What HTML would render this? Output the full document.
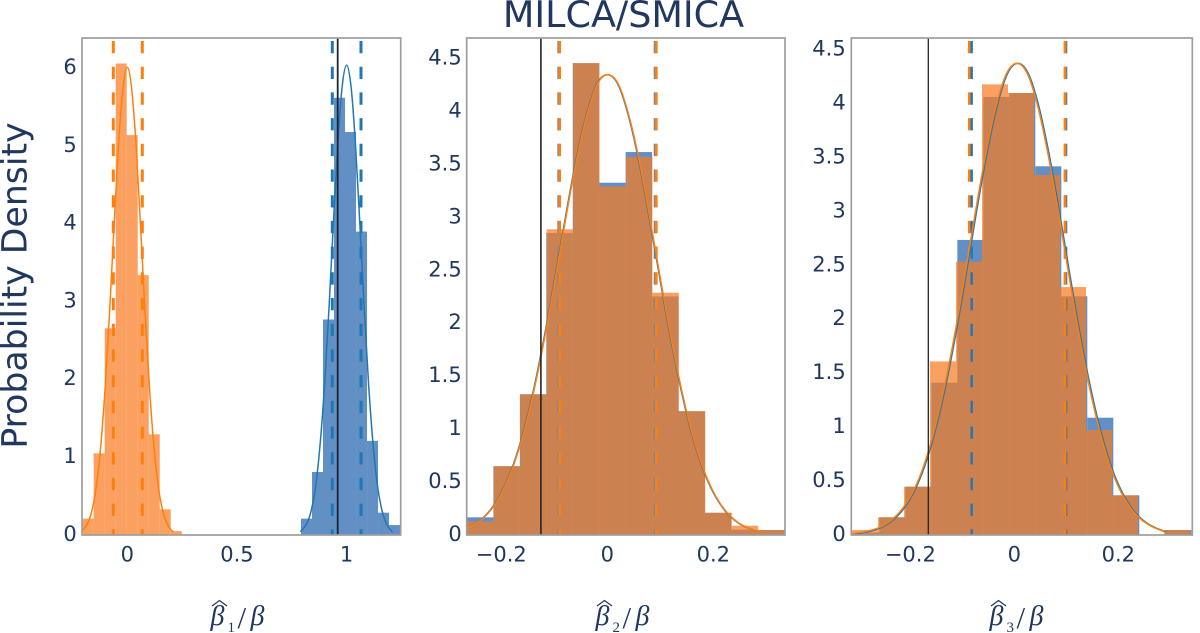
<!DOCTYPE html>
<html lang="en">
<head>
<meta charset="utf-8">
<title>MILCA/SMICA</title>
<style>
html,body{margin:0;padding:0;background:#fff;}
svg{display:block;}
text{font-family:"DejaVu Sans","Liberation Sans",sans-serif;fill:#20375f;}
.math{font-family:"Liberation Serif",serif;font-style:italic;}
.tick{font-size:21px;}
</style>
</head>
<body>
<svg id="chart" xmlns="http://www.w3.org/2000/svg" width="1200" height="633" viewBox="0 0 1200 633">
  <rect x="0" y="0" width="1200" height="633" fill="#ffffff"/>
  <text x="623.5" y="27" text-anchor="middle" font-size="36.5">MILCA/SMICA</text>
  <text transform="translate(26.5 285.5) rotate(-90)" text-anchor="middle" font-size="34.7">Probability Density</text>

  <g>
    <path d="M212 606 L219.5 600.5 L227 606" fill="none" stroke="#20375f" stroke-width="1.2"/>
    <text class="math" x="210.5" y="625" font-size="28">β</text>
    <text x="227.5" y="632" font-size="15" style="font-family:'Liberation Serif',serif">1</text>
    <text class="math" x="237.5" y="628" font-size="31" style="font-style:normal">/</text>
    <text class="math" x="250.5" y="625" font-size="28">β</text>
  </g>
  <g>
    <path d="M597 606 L604.5 600.5 L612 606" fill="none" stroke="#20375f" stroke-width="1.2"/>
    <text class="math" x="595.5" y="625" font-size="28">β</text>
    <text x="612.5" y="632" font-size="15" style="font-family:'Liberation Serif',serif">2</text>
    <text class="math" x="622.5" y="628" font-size="31" style="font-style:normal">/</text>
    <text class="math" x="635.5" y="625" font-size="28">β</text>
  </g>
  <g>
    <path d="M991 606 L998.5 600.5 L1006 606" fill="none" stroke="#20375f" stroke-width="1.2"/>
    <text class="math" x="989.5" y="625" font-size="28">β</text>
    <text x="1006.5" y="632" font-size="15" style="font-family:'Liberation Serif',serif">3</text>
    <text class="math" x="1016.5" y="628" font-size="31" style="font-style:normal">/</text>
    <text class="math" x="1029.5" y="625" font-size="28">β</text>
  </g>
</svg>

<script>
// ---------- Panel 1 data ----------
const p1XTicks = [0, 0.5, 1];
const p1XTickLabels = ["0", "0.5", "1"];
const p1YTicks = [0, 1, 2, 3, 4, 5, 6];
const p1YTickLabels = ["0", "1", "2", "3", "4", "5", "6"];
const p1OrangeBinEdges = [-0.2035, -0.1533, -0.1031, -0.0529, -0.0027, 0.0475, 0.0977, 0.1479, 0.1981, 0.2483];
const p1OrangeHeights = [0.21, 1.05, 2.657, 6.06, 5.14, 3.34, 1.294, 0.33, 0.05];
const p1BlueBinEdges = [0.792, 0.8422, 0.8924, 0.9426, 0.9928, 1.043, 1.0932, 1.1434, 1.1936, 1.2438];
const p1BlueHeights = [0.21, 0.81, 2.77, 5.62, 5.18, 3.90, 1.21, 0.287, 0.128];
const p1OrangeCurveX = [-0.207, -0.18, -0.16, -0.14, -0.12, -0.10, -0.08, -0.06, -0.04, -0.02, 0, 0.02, 0.04, 0.06, 0.08, 0.10, 0.12, 0.14, 0.16, 0.18, 0.20, 0.21];
const p1OrangeCurveY = [0.05, 0.154, 0.33, 0.65, 1.18, 1.94, 2.91, 3.99, 5.01, 5.73, 6.01, 5.73, 5.01, 3.99, 2.91, 1.94, 1.18, 0.65, 0.33, 0.154, 0.065, 0.04];
const p1BlueCurveX = [0.79, 0.82, 0.84, 0.86, 0.88, 0.90, 0.92, 0.94, 0.96, 0.98, 1.0, 1.02, 1.04, 1.06, 1.08, 1.10, 1.12, 1.14, 1.16, 1.18, 1.20, 1.21];
const p1BlueCurveY = [0.04, 0.155, 0.33, 0.65, 1.19, 1.95, 2.93, 4.02, 5.04, 5.77, 6.04, 5.77, 5.04, 4.02, 2.93, 1.95, 1.19, 0.65, 0.33, 0.155, 0.065, 0.04];
const p1OrangeBounds = [-0.0638, 0.0684];
const p1BlueBounds = [0.9348, 1.0657];
const p1ReferenceValue = 0.9594;

// ---------- Panel 2 data ----------
const p2XTicks = [-0.2, 0, 0.2];
const p2XTickLabels = ["\u22120.2", "0", "0.2"];
const p2YTicks = [0, 0.5, 1, 1.5, 2, 2.5, 3, 3.5, 4, 4.5];
const p2YTickLabels = ["0", "0.5", "1", "1.5", "2", "2.5", "3", "3.5", "4", "4.5"];
const p2OrangeBinEdges = [-0.2642, -0.2143, -0.1644, -0.1145, -0.0646, -0.0147, 0.0352, 0.0851, 0.135, 0.1849, 0.2348, 0.2847, 0.3346];
const p2OrangeHeights = [0.129, 0.65, 1.33, 2.89, 4.46, 3.295, 3.575, 2.29, 1.17, 0.21, 0.088, 0.047];
const p2BlueBinEdges = [-0.2648, -0.2149, -0.165, -0.1151, -0.0652, -0.0153, 0.0346, 0.0845, 0.1344, 0.1843, 0.2342, 0.2841, 0.334];
const p2BlueHeights = [0.167, 0.65, 1.33, 2.855, 4.46, 3.33, 3.62, 2.255, 1.17, 0.21, 0.05, 0.047];
const p2BlueCurveX = [-0.265, -0.24, -0.22, -0.20, -0.18, -0.16, -0.14, -0.12, -0.10, -0.08, -0.06, -0.04, -0.02, 0, 0.02, 0.04, 0.06, 0.08, 0.10, 0.12, 0.14, 0.16, 0.18, 0.20, 0.22, 0.24, 0.26, 0.28, 0.294];
const p2BlueCurveY = [0.07, 0.14, 0.242, 0.40, 0.63, 0.945, 1.353, 1.845, 2.40, 2.975, 3.52, 3.96, 4.26, 4.35, 4.26, 3.96, 3.52, 2.975, 2.40, 1.845, 1.353, 0.945, 0.63, 0.40, 0.242, 0.14, 0.077, 0.04, 0.024];
const p2OrangeCurveX = [-0.264, -0.239, -0.219, -0.199, -0.179, -0.159, -0.139, -0.119, -0.099, -0.079, -0.059, -0.039, -0.019, 0.001, 0.021, 0.041, 0.061, 0.081, 0.101, 0.121, 0.141, 0.161, 0.181, 0.201, 0.221, 0.241, 0.261, 0.281, 0.295];
const p2OrangeCurveY = [0.07, 0.14, 0.242, 0.40, 0.63, 0.945, 1.353, 1.845, 2.40, 2.975, 3.52, 3.96, 4.26, 4.35, 4.26, 3.96, 3.52, 2.975, 2.40, 1.845, 1.353, 0.945, 0.63, 0.40, 0.242, 0.14, 0.077, 0.04, 0.024];
const p2OrangeBounds = [-0.0898, 0.0925];
const p2BlueBounds = [-0.0915, 0.0904];
const p2ReferenceValue = -0.1253;

// ---------- Panel 3 data ----------
const p3XTicks = [-0.2, 0, 0.2];
const p3XTickLabels = ["\u22120.2", "0", "0.2"];
const p3YTicks = [0, 0.5, 1, 1.5, 2, 2.5, 3, 3.5, 4, 4.5];
const p3YTickLabels = ["0", "0.5", "1", "1.5", "2", "2.5", "3", "3.5", "4", "4.5"];
const p3BlueBinEdges = [-0.3096, -0.2596, -0.2096, -0.1596, -0.1096, -0.0596, -0.0096, 0.0404, 0.0904, 0.1404, 0.1904, 0.2404, 0.2904, 0.3404, 0.3904];
const p3BlueHeights = [0.023, 0.164, 0.448, 1.413, 2.737, 4.063, 4.10, 3.42, 2.214, 1.088, 0.368, 0, 0.046, 0.046];
const p3OrangeBinEdges = [-0.3121, -0.2621, -0.2121, -0.1621, -0.1121, -0.0621, -0.0121, 0.0379, 0.0879, 0.1379, 0.1879, 0.2379, 0.2879, 0.3379];
const p3OrangeHeights = [0.046, 0.164, 0.448, 1.61, 2.535, 4.18, 4.10, 3.34, 2.30, 0.974, 0.368, 0, 0.046];
const p3BlueCurveX = [-0.308, -0.293, -0.273, -0.253, -0.233, -0.213, -0.193, -0.173, -0.153, -0.133, -0.113, -0.093, -0.073, -0.053, -0.033, -0.013, 0.007, 0.027, 0.047, 0.067, 0.087, 0.107, 0.127, 0.147, 0.167, 0.187, 0.207, 0.227, 0.247, 0.267, 0.291];
const p3BlueCurveY = [0.006, 0.02, 0.04, 0.077, 0.14, 0.242, 0.40, 0.63, 0.95, 1.36, 1.85, 2.41, 2.99, 3.53, 3.98, 4.28, 4.375, 4.28, 3.98, 3.53, 2.99, 2.41, 1.85, 1.36, 0.95, 0.63, 0.40, 0.242, 0.14, 0.077, 0.03];
const p3OrangeCurveX = [-0.312, -0.295, -0.275, -0.255, -0.235, -0.215, -0.195, -0.175, -0.155, -0.135, -0.115, -0.095, -0.075, -0.055, -0.035, -0.015, 0.005, 0.025, 0.045, 0.065, 0.085, 0.105, 0.125, 0.145, 0.165, 0.185, 0.205, 0.225, 0.245, 0.265, 0.289];
const p3OrangeCurveY = [0.012, 0.025, 0.045, 0.08, 0.142, 0.245, 0.40, 0.63, 0.95, 1.36, 1.85, 2.41, 2.99, 3.53, 3.98, 4.28, 4.375, 4.28, 3.98, 3.53, 2.99, 2.41, 1.85, 1.36, 0.95, 0.63, 0.40, 0.242, 0.14, 0.077, 0.03];
const p3OrangeBounds = [-0.0865, 0.0975];
const p3BlueBounds = [-0.082, 0.0990];
const p3ReferenceValue = -0.1654;
const p3OrangeLeftDashFloor = 2.535;

// ---------- Drawing ----------
const SVG_NS = "http://www.w3.org/2000/svg";
const chart = document.getElementById("chart");
const BLUE_BAR = "rgb(98,144,197)";
const ORANGE_BAR = "rgb(248,122,32)";
const ORANGE_BAR_ALPHA = 0.71;
const BLUE_LINE = "#1f77b4";
const ORANGE_LINE = "#ff7f0e";
const PLOT_TOP = 38;
const PLOT_BOTTOM = 535;

function shape(parent, tag, attrs) {
  const el = document.createElementNS(SVG_NS, tag);
  for (const key in attrs) el.setAttribute(key, attrs[key]);
  parent.appendChild(el);
  return el;
}

function linearScale(domain, range) {
  return function (v) {
    return range[0] + (v - domain[0]) / (domain[1] - domain[0]) * (range[1] - range[0]);
  };
}

function smoothPath(xs, ys, sx, sy) {
  const pts = xs.map(function (x, i) { return [sx(x), sy(ys[i])]; });
  let d = "M" + pts[0][0].toFixed(2) + " " + pts[0][1].toFixed(2);
  for (let i = 0; i < pts.length - 1; i++) {
    const p0 = pts[Math.max(0, i - 1)];
    const p1 = pts[i];
    const p2 = pts[i + 1];
    const p3 = pts[Math.min(pts.length - 1, i + 2)];
    const c1x = p1[0] + (p2[0] - p0[0]) / 6;
    const c1y = p1[1] + (p2[1] - p0[1]) / 6;
    const c2x = p2[0] - (p3[0] - p1[0]) / 6;
    const c2y = p2[1] - (p3[1] - p1[1]) / 6;
    d += " C" + c1x.toFixed(2) + " " + c1y.toFixed(2) + " " + c2x.toFixed(2) + " " + c2y.toFixed(2) + " " + p2[0].toFixed(2) + " " + p2[1].toFixed(2);
  }
  return d;
}

function drawBars(parent, edges, heights, sx, sy, fill, alpha, name) {
  heights.forEach(function (h, i) {
    if (h <= 0) return;
    const x0 = sx(edges[i]);
    const x1 = sx(edges[i + 1]);
    const bar = shape(parent, "rect", {
      x: x0, y: sy(h), width: x1 - x0, height: sy(0) - sy(h),
      fill: fill, "fill-opacity": alpha
    });
    
    
  });
}

function drawCurve(parent, xs, ys, sx, sy, color, name) {
  const curve = shape(parent, "path", {
    d: smoothPath(xs, ys, sx, sy), fill: "none", stroke: color,
    "stroke-width": 1.5, "stroke-linejoin": "round"
  });
  
  
}

function drawDash(parent, value, floorValue, sx, sy, color, width, name) {
  const line = shape(parent, "line", {
    x1: sx(value), x2: sx(value), y1: PLOT_TOP + 3, y2: sy(floorValue),
    stroke: color, "stroke-width": width, "stroke-dasharray": "12.3 13.4"
  });
  
  
}

function drawReference(parent, value, sx, color, width) {
  const line = shape(parent, "line", {
    x1: sx(value), x2: sx(value), y1: PLOT_TOP, y2: PLOT_BOTTOM,
    stroke: color, "stroke-width": width
  });
  
  
}

function drawAxes(parent, xTicks, xLabels, yTicks, yLabels, sx, sy, left, right, labelRight) {
  xTicks.forEach(function (t, i) {
    const label = shape(parent, "text", { x: sx(t), y: 561.5, "text-anchor": "middle", "class": "tick" });
    
    
    label.textContent = xLabels[i];
  });
  yTicks.forEach(function (t, i) {
    const label = shape(parent, "text", { x: labelRight, y: sy(t) + 5.8, "text-anchor": "end", "class": "tick" });
    
    
    label.textContent = yLabels[i];
  });
  const frame = shape(parent, "rect", {
    x: left, y: PLOT_TOP, width: right - left, height: PLOT_BOTTOM - PLOT_TOP,
    fill: "none", stroke: "#9e9e9e", "stroke-width": 1.7
  });
  
  
}

function makePanel(id, left, right, xDomain, yMax) {
  const g = shape(chart, "g", {});
  
  
  const clip = shape(g, "clipPath", { id: id + "-clip" });
  shape(clip, "rect", { x: left, y: PLOT_TOP, width: right - left, height: PLOT_BOTTOM - PLOT_TOP });
  const inner = shape(g, "g", { "clip-path": "url(#" + id + "-clip)" });
  
  
  return {
    g: g, inner: inner,
    sx: linearScale(xDomain, [left, right]),
    sy: linearScale([0, yMax], [PLOT_BOTTOM, PLOT_TOP])
  };
}

// Panel 1
(function () {
  const p = makePanel("panel-beta-1", 82, 400.7, [-0.2066, 1.2467], 6.388);
  drawBars(p.inner, p1BlueBinEdges, p1BlueHeights, p.sx, p.sy, BLUE_BAR, 1, "blue-histogram-bar");
  drawBars(p.inner, p1OrangeBinEdges, p1OrangeHeights, p.sx, p.sy, ORANGE_BAR, ORANGE_BAR_ALPHA, "orange-histogram-bar");
  p1OrangeBounds.forEach(function (v) { drawDash(p.inner, v, 0, p.sx, p.sy, ORANGE_LINE, 3, "orange-interval-line"); });
  p1BlueBounds.forEach(function (v) { drawDash(p.inner, v, 0, p.sx, p.sy, BLUE_LINE, 3, "blue-interval-line"); });
  drawCurve(p.inner, p1BlueCurveX, p1BlueCurveY, p.sx, p.sy, BLUE_LINE, "blue-density-curve");
  drawCurve(p.inner, p1OrangeCurveX, p1OrangeCurveY, p.sx, p.sy, ORANGE_LINE, "orange-density-curve");
  drawReference(p.inner, p1ReferenceValue, p.sx, "#1d2433", 1.8);
  drawAxes(p.g, p1XTicks, p1XTickLabels, p1YTicks, p1YTickLabels, p.sx, p.sy, 82, 400.7, 76.7);
})();

// Panel 2
(function () {
  const p = makePanel("panel-beta-2", 466.7, 785, [-0.2653, 0.3353], 4.698);
  drawBars(p.inner, p2BlueBinEdges, p2BlueHeights, p.sx, p.sy, BLUE_BAR, 1, "blue-histogram-bar");
  drawBars(p.inner, p2OrangeBinEdges, p2OrangeHeights, p.sx, p.sy, ORANGE_BAR, ORANGE_BAR_ALPHA, "orange-histogram-bar");
  p2BlueBounds.forEach(function (v) { drawDash(p.inner, v, 0, p.sx, p.sy, "#6f8aa6", 3, "blue-interval-line"); });
  p2OrangeBounds.forEach(function (v) { drawDash(p.inner, v, 0, p.sx, p.sy, ORANGE_LINE, 2.7, "orange-interval-line"); });
  drawCurve(p.inner, p2BlueCurveX, p2BlueCurveY, p.sx, p.sy, BLUE_LINE, "blue-density-curve");
  drawCurve(p.inner, p2OrangeCurveX, p2OrangeCurveY, p.sx, p.sy, ORANGE_LINE, "orange-density-curve");
  drawReference(p.inner, p2ReferenceValue, p.sx, "#2a2320", 1.6);
  drawAxes(p.g, p2XTicks, p2XTickLabels, p2YTicks, p2YTickLabels, p.sx, p.sy, 466.7, 785, 461.7);
})();

// Panel 3
(function () {
  const p = makePanel("panel-beta-3", 851.3, 1192.3, [-0.3135, 0.3423], 4.61);
  drawBars(p.inner, p3BlueBinEdges, p3BlueHeights, p.sx, p.sy, BLUE_BAR, 1, "blue-histogram-bar");
  drawBars(p.inner, p3OrangeBinEdges, p3OrangeHeights, p.sx, p.sy, ORANGE_BAR, ORANGE_BAR_ALPHA, "orange-histogram-bar");
  drawDash(p.inner, p3BlueBounds[1], 0, p.sx, p.sy, BLUE_LINE, 3, "blue-interval-line");
  drawDash(p.inner, p3OrangeBounds[1], 0, p.sx, p.sy, ORANGE_LINE, 2.8, "orange-interval-line");
  drawDash(p.inner, p3OrangeBounds[0], p3OrangeLeftDashFloor, p.sx, p.sy, ORANGE_LINE, 2.8, "orange-interval-line");
  drawDash(p.inner, p3BlueBounds[0], 0, p.sx, p.sy, BLUE_LINE, 2.4, "blue-interval-line");
  drawCurve(p.inner, p3BlueCurveX, p3BlueCurveY, p.sx, p.sy, BLUE_LINE, "blue-density-curve");
  drawCurve(p.inner, p3OrangeCurveX, p3OrangeCurveY, p.sx, p.sy, ORANGE_LINE, "orange-density-curve");
  drawReference(p.inner, p3ReferenceValue, p.sx, "#2a2320", 1.3);
  drawAxes(p.g, p3XTicks, p3XTickLabels, p3YTicks, p3YTickLabels, p.sx, p.sy, 851.3, 1192.3, 845.7);
})();
</script>
</body>
</html>
